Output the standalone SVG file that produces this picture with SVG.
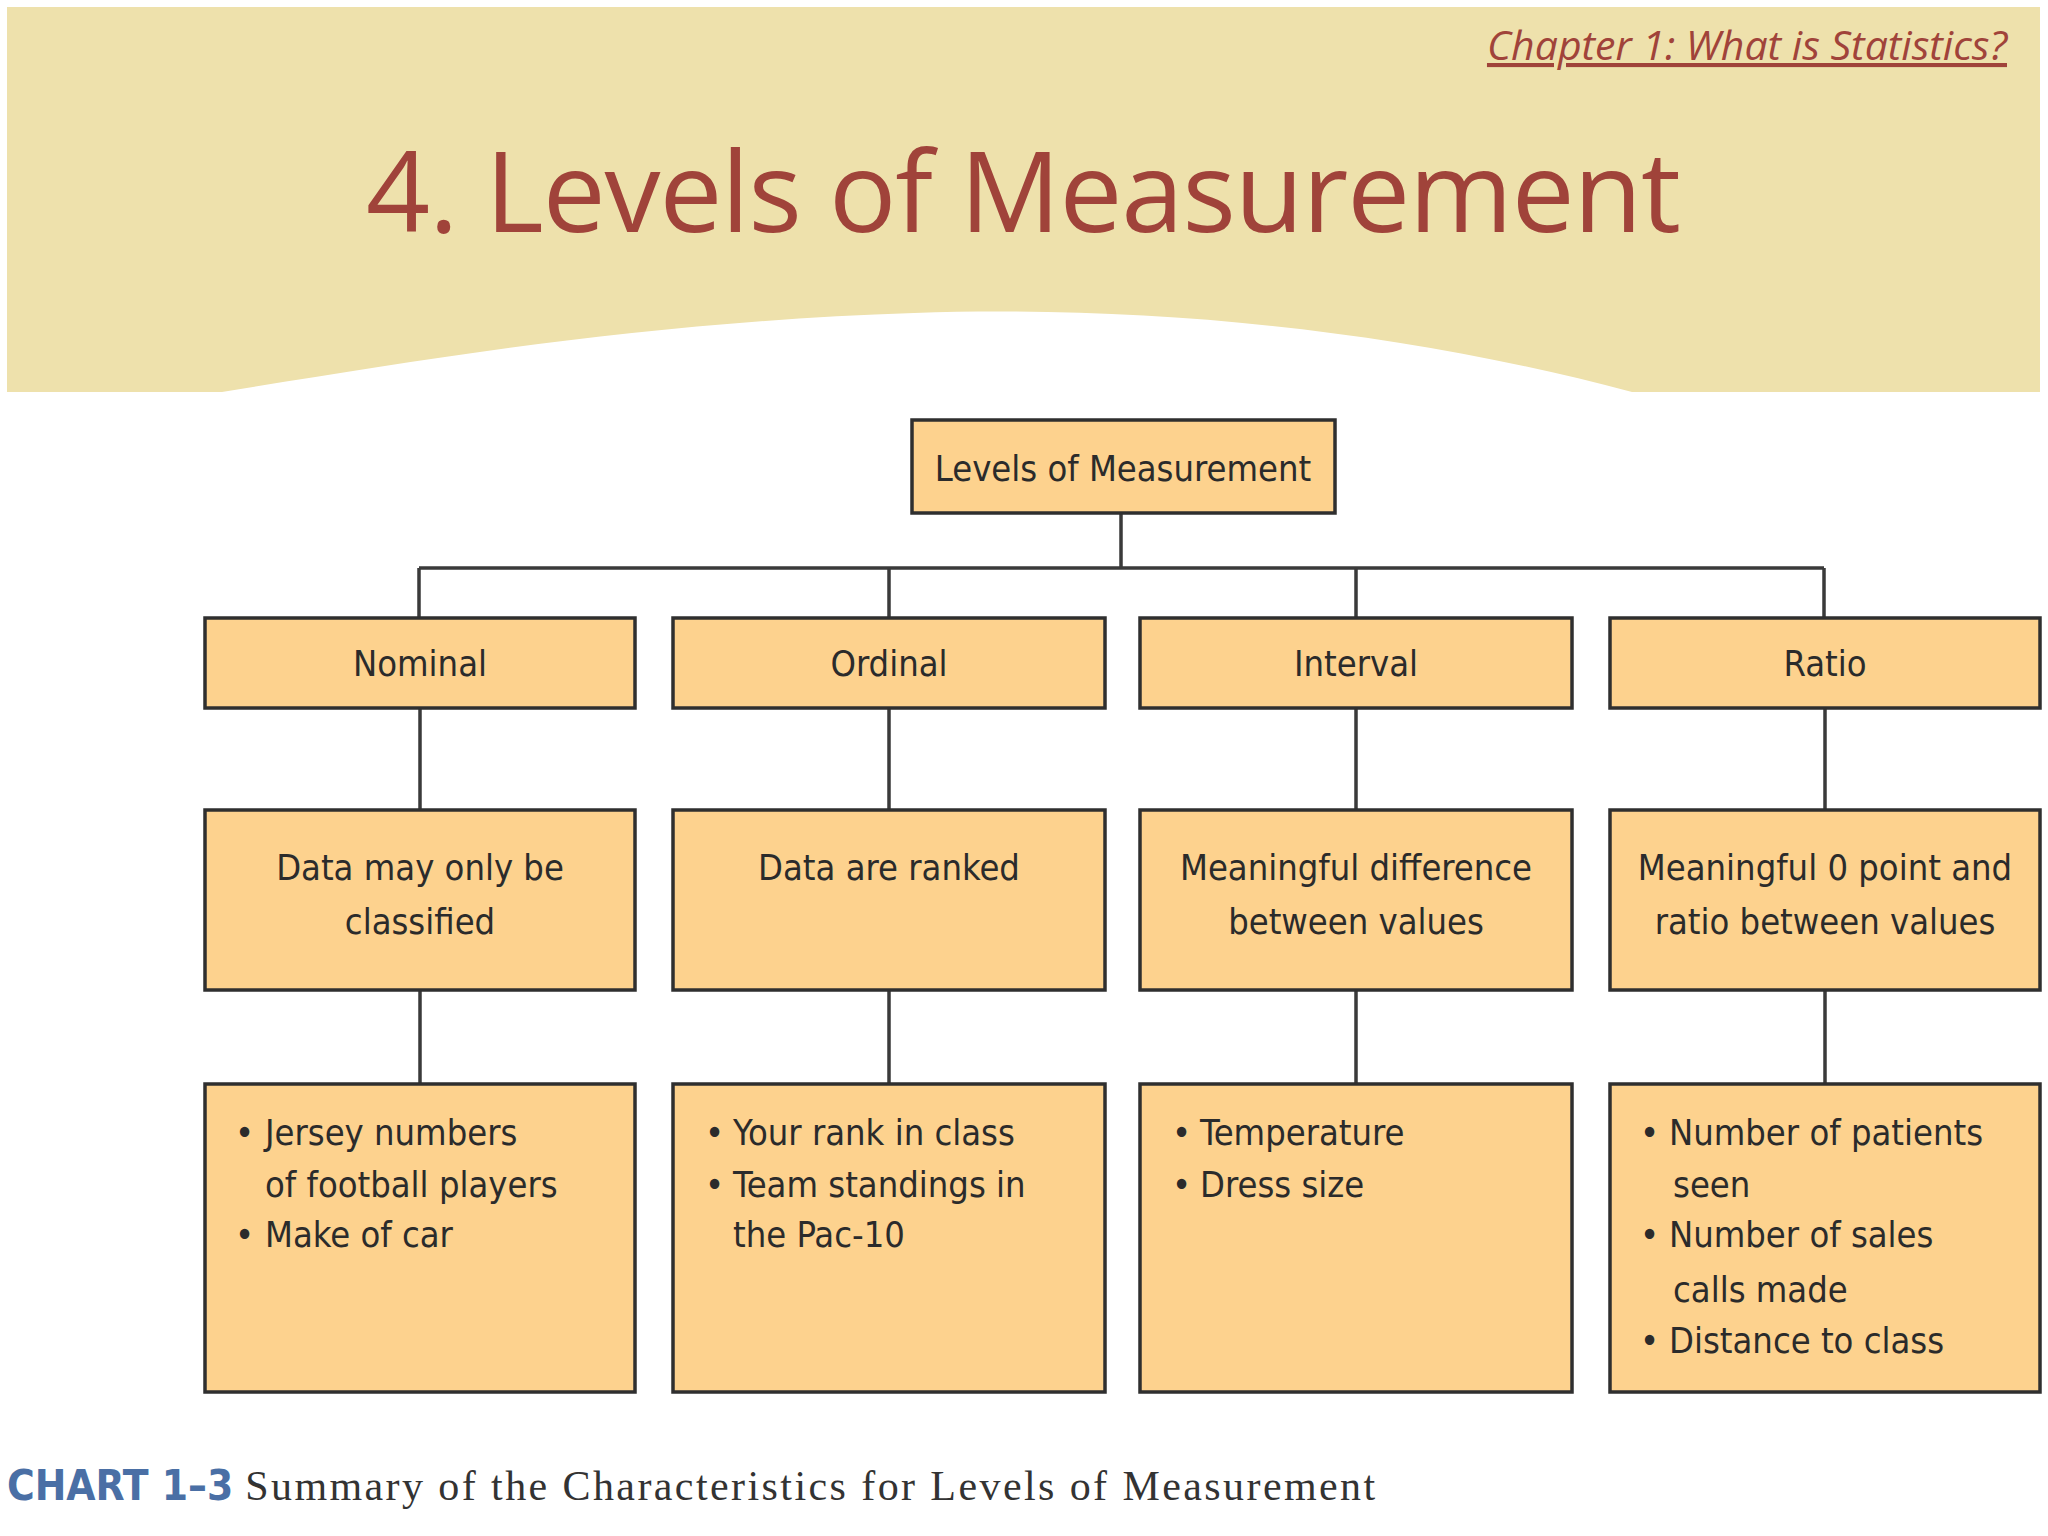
<svg xmlns="http://www.w3.org/2000/svg" width="2048" height="1536" viewBox="0 0 2048 1536">
<style>
.bx{fill:#FDD28E;stroke:#2f2f2f;stroke-width:3.5}
.t{font-family:"DejaVu Sans Condensed","Liberation Sans",sans-serif;font-size:36px;fill:#2b2b2b;dominant-baseline:central}
.c{text-anchor:middle}
.ln{stroke:#3a3a3a;stroke-width:3.5;fill:none}
</style>
<rect width="2048" height="1536" fill="#fff"/>
<path d="M7 7H2040V392H1632C1400 330 1150 305 914 313C640 322 420 360 222 392H7Z" fill="#EEE1AC"/>
<text x="2007" y="60" text-anchor="end" font-family="Open Sans,Liberation Sans,sans-serif" font-style="italic" font-size="41" fill="#A0433A" text-decoration="underline">Chapter 1: What is Statistics?</text>
<text x="366" y="232" font-family="Open Sans,Liberation Sans,sans-serif" font-size="112" fill="#A0433A" textLength="1315">4. Levels of Measurement</text>
<g id="connectors" class="ln">
<path d="M1121 513V568M419 568H1824M419 568V618M889 568V618M1356 568V618M1824 568V618"/>
<path d="M420 708V810M889 708V810M1356 708V810M1825 708V810"/>
<path d="M420 990V1084M889 990V1084M1356 990V1084M1825 990V1084"/>
</g>
<g id="root"><rect class="bx" x="912" y="420" width="423" height="93"/><text class="t c" x="1123" y="468">Levels of Measurement</text></g>
<g id="nominal"><rect class="bx" x="205" y="618" width="430" height="90"/><text class="t c" x="420" y="663">Nominal</text></g>
<g id="ordinal"><rect class="bx" x="673" y="618" width="432" height="90"/><text class="t c" x="889" y="663">Ordinal</text></g>
<g id="interval"><rect class="bx" x="1140" y="618" width="432" height="90"/><text class="t c" x="1356" y="663">Interval</text></g>
<g id="ratio"><rect class="bx" x="1610" y="618" width="430" height="90"/><text class="t c" x="1825" y="663">Ratio</text></g>
<g id="nominal-desc"><rect class="bx" x="205" y="810" width="430" height="180"/><text class="t c" x="420" y="867">Data may only be</text><text class="t c" x="420" y="921">classified</text></g>
<g id="ordinal-desc"><rect class="bx" x="673" y="810" width="432" height="180"/><text class="t c" x="889" y="867">Data are ranked</text></g>
<g id="interval-desc"><rect class="bx" x="1140" y="810" width="432" height="180"/><text class="t c" x="1356" y="867">Meaningful difference</text><text class="t c" x="1356" y="921">between values</text></g>
<g id="ratio-desc"><rect class="bx" x="1610" y="810" width="430" height="180"/><text class="t c" x="1825" y="867">Meaningful 0 point and</text><text class="t c" x="1825" y="921">ratio between values</text></g>
<g id="nominal-ex"><rect class="bx" x="205" y="1084" width="430" height="308"/>
<text class="t" x="235" y="1132">•</text><text class="t" x="265" y="1132">Jersey numbers</text><text class="t" x="265" y="1184">of football players</text>
<text class="t" x="235" y="1234">•</text><text class="t" x="265" y="1234">Make of car</text></g>
<g id="ordinal-ex"><rect class="bx" x="673" y="1084" width="432" height="308"/>
<text class="t" x="705" y="1132">•</text><text class="t" x="733" y="1132">Your rank in class</text>
<text class="t" x="705" y="1184">•</text><text class="t" x="733" y="1184">Team standings in</text><text class="t" x="733" y="1234">the Pac-10</text></g>
<g id="interval-ex"><rect class="bx" x="1140" y="1084" width="432" height="308"/>
<text class="t" x="1172" y="1132">•</text><text class="t" x="1200" y="1132">Temperature</text>
<text class="t" x="1172" y="1184">•</text><text class="t" x="1200" y="1184">Dress size</text></g>
<g id="ratio-ex"><rect class="bx" x="1610" y="1084" width="430" height="308"/>
<text class="t" x="1640" y="1132">•</text><text class="t" x="1669" y="1132">Number of patients</text><text class="t" x="1673" y="1184">seen</text>
<text class="t" x="1640" y="1234">•</text><text class="t" x="1669" y="1234">Number of sales</text><text class="t" x="1673" y="1289">calls made</text>
<text class="t" x="1640" y="1340">•</text><text class="t" x="1669" y="1340">Distance to class</text></g>
<text x="7" y="1500" font-size="42"><tspan font-family="DejaVu Sans Condensed,sans-serif" font-weight="bold" fill="#4A6FA5">CHART 1–3</tspan><tspan font-family="Liberation Serif,serif" fill="#333" dx="12" textLength="1130">Summary of the Characteristics for Levels of Measurement</tspan></text>
</svg>
